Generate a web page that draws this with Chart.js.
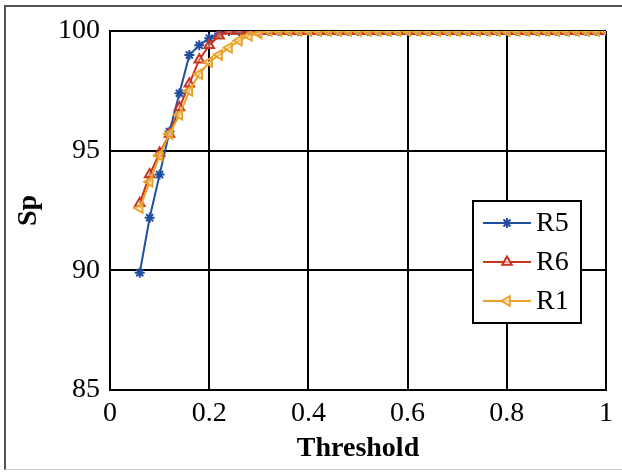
<!DOCTYPE html>
<html>
<head>
<meta charset="utf-8">
<script src="https://cdn.jsdelivr.net/npm/chart.js@4.4.1/dist/chart.umd.min.js"></script>
<style>
  html, body { margin: 0; padding: 0; background: #fff; }
  #frame { position: absolute; left: 4px; top: 5px; width: 622px; height: 465px;
           border-left: 2px solid #555; border-top: 2px solid #555; border-bottom: 1px solid #ccc; box-sizing: border-box; }
  #wrap { position: absolute; left: 0; top: 0; width: 622px; height: 474px; }
</style>
</head>
<body>
<div id="frame"></div>
<div id="wrap"><canvas id="c" width="622" height="474"></canvas></div>
<script>
const thresholds = [0.06,0.08,0.10,0.12,0.14,0.16,0.18,0.20,0.22,0.24,
  0.26,0.28,0.30,0.32,0.34,0.36,0.38,0.40,0.42,0.44,0.46,0.48,0.50,0.52,0.54,0.56,0.58,0.60,
  0.62,0.64,0.66,0.68,0.70,0.72,0.74,0.76,0.78,0.80,0.82,0.84,0.86,0.88,0.90,0.92,0.94,0.96,0.98,1.00];
const r5 = [89.9,92.2,94.0,95.8,97.4,99.0,99.4,99.7,99.9,100,
  100,100,100,100,100,100,100,100,100,100,100,100,100,100,100,100,100,100,
  100,100,100,100,100,100,100,100,100,100,100,100,100,100,100,100,100,100,100,100];
const r6 = [92.8,94.0,94.9,95.7,96.8,97.8,98.8,99.4,99.8,100,
  100,100,100,100,100,100,100,100,100,100,100,100,100,100,100,100,100,100,
  100,100,100,100,100,100,100,100,100,100,100,100,100,100,100,100,100,100,100,100];
const r1 = [92.6,93.7,94.8,95.7,96.5,97.5,98.2,98.7,99.0,99.3,
  99.6,99.8,99.9,100,100,100,100,100,100,100,100,100,100,100,100,100,100,100,
  100,100,100,100,100,100,100,100,100,100,100,100,100,100,100,100,100,100,100,100];
const seriesNames = ['R5','R6','R1'];
const xTicks = [0,0.2,0.4,0.6,0.8,1];
const yTicks = [85,90,95,100];

const FONT = "'Liberation Serif', 'Times New Roman', serif";
const colors = ['#1f4f9e', '#c8341c', '#eba124'];

function pts(vals) { return thresholds.map((x, i) => ({x: x, y: vals[i]})); }

const legendPlugin = {
  id: 'boxLegend',
  afterDraw(chart) {
    const ctx = chart.ctx;
    const ca = chart.chartArea;
    const bx = ca.right - 133, by = ca.top + 170, bw = 108, bh = 122;
    ctx.save();
    ctx.fillStyle = '#fff';
    ctx.fillRect(bx, by, bw, bh);
    ctx.strokeStyle = '#000';
    ctx.lineWidth = 2;
    ctx.strokeRect(bx, by, bw, bh);
    [0, 1, 2].forEach((di, k) => {
      const ds = chart.data.datasets[di];
      const y = by + 22 + k * 39;
      ctx.strokeStyle = ds.borderColor;
      ctx.lineWidth = 2;
      ctx.beginPath();
      ctx.moveTo(bx + 10, y);
      ctx.lineTo(bx + 58, y);
      ctx.stroke();
      ctx.fillStyle = 'rgba(255,255,255,0.6)';
      Chart.helpers.drawPoint(ctx, {
        pointStyle: ds.pointStyle, radius: ds.pointRadius, rotation: ds.pointRotation || 0,
        borderWidth: 2
      }, bx + 34, y);
      ctx.fillStyle = '#000';
      ctx.font = "28px " + FONT;
      ctx.textBaseline = 'middle';
      ctx.textAlign = 'left';
      ctx.fillText(ds.label, bx + 63, y + 1);
    });
    ctx.restore();
  }
};

new Chart(document.getElementById('c'), {
  type: 'line',
  data: {
    datasets: [
      { label: seriesNames[0], data: pts(r5), borderColor: colors[0], backgroundColor: 'rgba(0,0,0,0)',
        borderWidth: 2, pointStyle: 'star', pointRadius: 5, pointBorderWidth: 2, order: 3 },
      { label: seriesNames[1], data: pts(r6), borderColor: colors[1], backgroundColor: 'rgba(255,255,255,0.3)',
        borderWidth: 2, pointStyle: 'triangle', pointRadius: 5.5, pointBorderWidth: 2, order: 2 },
      { label: seriesNames[2], data: pts(r1), borderColor: colors[2], backgroundColor: 'rgba(255,255,255,0.3)',
        borderWidth: 2, pointStyle: 'triangle', pointRotation: -90, pointRadius: 5.5, pointBorderWidth: 2, order: 1 }
    ]
  },
  options: {
    responsive: false,
    animation: false,
    layout: { padding: { left: 0, right: 16, top: 31, bottom: 0 } },
    plugins: { legend: { display: false }, tooltip: { enabled: false } },
    scales: {
      x: {
        type: 'linear', min: 0, max: 1,
        afterBuildTicks: s => { s.ticks = xTicks.map(v => ({value: v})); },
        afterFit: s => { s.height = 84; },
        grid: { color: '#000', lineWidth: 2, drawTicks: false },
        border: { color: '#000', width: 2 },
        ticks: { color: '#000', font: { family: FONT, size: 28 }, padding: 7, maxRotation: 0,
                 callback: v => String(v) },
        title: { display: true, text: 'Threshold', color: '#000', font: { family: FONT, size: 28, weight: 'bold' },
                 padding: { top: 0, bottom: 8 } }
      },
      y: {
        min: 85, max: 100,
        afterBuildTicks: s => { s.ticks = yTicks.map(v => ({value: v})); },
        afterFit: s => { s.width = 110; },
        grid: { color: '#000', lineWidth: 2, drawTicks: false },
        border: { color: '#000', width: 2 },
        ticks: { color: '#000', font: { family: FONT, size: 28 }, padding: 10 },
        title: { display: true, text: 'Sp', color: '#000', font: { family: FONT, size: 28, weight: 'bold' },
                 padding: { top: 12, bottom: 0 } }
      }
    }
  },
  plugins: [legendPlugin]
});
</script>
</body>
</html>
